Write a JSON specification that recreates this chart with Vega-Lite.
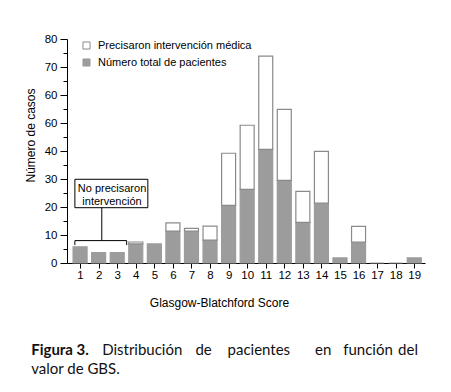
{
  "$schema": "https://vega.github.io/schema/vega-lite/v6.json",
  "width": 358,
  "height": 224,
  "autosize": {"type": "none"},
  "padding": {"left": 67, "top": 39, "right": 26, "bottom": 129},
  "background": "white",
  "config": {"view": {"stroke": null}, "font": "Liberation Sans", "axis": {"labelOverlap": false, "labelBound": false}},
  "data": {"values": [
    {"score": 1, "series": "Número total de pacientes", "value": 5.8},
    {"score": 2, "series": "Número total de pacientes", "value": 3.7},
    {"score": 3, "series": "Número total de pacientes", "value": 3.7},
    {"score": 4, "series": "Número total de pacientes", "value": 6.8},
    {"score": 5, "series": "Número total de pacientes", "value": 6.8},
    {"score": 6, "series": "Número total de pacientes", "value": 11.4},
    {"score": 7, "series": "Número total de pacientes", "value": 11.4},
    {"score": 8, "series": "Número total de pacientes", "value": 8.2},
    {"score": 9, "series": "Número total de pacientes", "value": 20.6},
    {"score": 10, "series": "Número total de pacientes", "value": 26.3},
    {"score": 11, "series": "Número total de pacientes", "value": 40.6},
    {"score": 12, "series": "Número total de pacientes", "value": 29.5},
    {"score": 13, "series": "Número total de pacientes", "value": 14.5},
    {"score": 14, "series": "Número total de pacientes", "value": 21.4},
    {"score": 15, "series": "Número total de pacientes", "value": 1.8},
    {"score": 16, "series": "Número total de pacientes", "value": 7.5},
    {"score": 17, "series": "Número total de pacientes", "value": 0},
    {"score": 18, "series": "Número total de pacientes", "value": 0},
    {"score": 19, "series": "Número total de pacientes", "value": 1.8},
    {"score": 4, "series": "Precisaron intervención médica", "value": 0.7},
    {"score": 6, "series": "Precisaron intervención médica", "value": 2.9},
    {"score": 7, "series": "Precisaron intervención médica", "value": 1.0},
    {"score": 8, "series": "Precisaron intervención médica", "value": 5.0},
    {"score": 9, "series": "Precisaron intervención médica", "value": 18.6},
    {"score": 10, "series": "Precisaron intervención médica", "value": 22.9},
    {"score": 11, "series": "Precisaron intervención médica", "value": 33.3},
    {"score": 12, "series": "Precisaron intervención médica", "value": 25.4},
    {"score": 13, "series": "Precisaron intervención médica", "value": 11.1},
    {"score": 14, "series": "Precisaron intervención médica", "value": 18.5},
    {"score": 16, "series": "Precisaron intervención médica", "value": 5.6}
  ]},
  "layer": [
    {
      "mark": {"type": "bar", "size": 14, "strokeWidth": 1.2},
      "encoding": {
        "x": {"field": "score", "type": "quantitative",
          "scale": {"domain": [0.565, 19.31], "nice": false, "zero": false},
          "axis": {"values": [1,2,3,4,5,6,7,8,9,10,11,12,13,14,15,16,17,18,19], "tickCount": 100, "format": "d",
            "title": "Glasgow-Blatchford Score", "grid": false, "tickSize": 5, "tickColor": "black", "domainColor": "black",
            "labelFontSize": 11.5, "labelPadding": 1, "labelColor": "black", "labelFlush": false, "labelOverlap": false,
            "titleFontSize": 12, "titleFontWeight": "normal", "titleColor": "black", "titleX": 152, "titleY": 39, "titleBaseline": "middle"}},
        "y": {"field": "value", "type": "quantitative", "stack": "zero",
          "scale": {"domain": [0, 80], "nice": false},
          "axis": {"values": [0,5,10,15,20,25,30,35,40,45,50,55,60,65,70,75,80], "tickCount": 100,
            "labelExpr": "datum.value % 10 != 0 ? '' : (datum.value == 50 ? '60' : datum.label)",
            "labelOverlap": false,
            "tickSize": {"condition": {"test": "datum.value % 10 == 0", "value": 7}, "value": 4},
            "title": "Número de casos", "grid": false, "tickColor": "black", "domainColor": "black",
            "labelFontSize": 11.5, "labelPadding": 3, "labelColor": "black",
            "titleFontSize": 12, "titleFontWeight": "normal", "titleColor": "black",
            "titleX": -37, "titleY": 96, "titleAlign": "center", "titleBaseline": "middle"}},
        "color": {"field": "series", "type": "nominal",
          "scale": {"domain": ["Precisaron intervención médica", "Número total de pacientes"], "range": ["#ffffff", "#9c9c9c"]},
          "legend": {"title": null, "orient": "none", "legendX": 14, "legendY": 1, "symbolType": "square", "symbolSize": 50,
            "labelFont": "Liberation Sans", "labelFontSize": 11, "labelColor": "black", "labelOffset": 6, "rowPadding": 4, "symbolStrokeWidth": 1}},
        "stroke": {"field": "series", "type": "nominal",
          "scale": {"domain": ["Precisaron intervención médica", "Número total de pacientes"], "range": ["#8a8a8a", "#9c9c9c"]}},
        "order": {"field": "series", "sort": "ascending"}
      }
    },
    {
      "data": {"values": [{}]},
      "mark": {"type": "rect", "fill": "white", "stroke": "black", "strokeWidth": 1},
      "encoding": {"x": {"datum": 0.72, "type": "quantitative"}, "x2": {"datum": 4.65}, "y": {"datum": 29.9, "type": "quantitative"}, "y2": {"datum": 19.75}}
    },
    {
      "data": {"values": [{}]},
      "mark": {"type": "rule", "stroke": "black", "strokeWidth": 1},
      "encoding": {"x": {"datum": 0.72, "type": "quantitative"}, "x2": {"datum": 3.51}, "y": {"datum": 8, "type": "quantitative"}}
    },
    {
      "data": {"values": [{}]},
      "mark": {"type": "rule", "stroke": "black", "strokeWidth": 1},
      "encoding": {"x": {"datum": 0.72, "type": "quantitative"}, "y": {"datum": 8, "type": "quantitative"}, "y2": {"datum": 6.4}}
    },
    {
      "data": {"values": [{}]},
      "mark": {"type": "rule", "stroke": "black", "strokeWidth": 1},
      "encoding": {"x": {"datum": 3.51, "type": "quantitative"}, "y": {"datum": 8, "type": "quantitative"}, "y2": {"datum": 6.4}}
    },
    {
      "data": {"values": [{}]},
      "mark": {"type": "rule", "stroke": "black", "strokeWidth": 1},
      "encoding": {"x": {"datum": 2.17, "type": "quantitative"}, "y": {"datum": 19.75, "type": "quantitative"}, "y2": {"datum": 8}}
    },
    {
      "data": {"values": [{}]},
      "mark": {"type": "text", "text": "No precisaron", "font": "Liberation Sans", "fontSize": 11, "align": "center", "baseline": "middle", "color": "black"},
      "encoding": {"x": {"datum": 2.72, "type": "quantitative"}, "y": {"datum": 26.3, "type": "quantitative"}}
    },
    {
      "data": {"values": [{}]},
      "mark": {"type": "text", "text": "intervención", "font": "Liberation Sans", "fontSize": 11, "align": "center", "baseline": "middle", "color": "black"},
      "encoding": {"x": {"datum": 2.72, "type": "quantitative"}, "y": {"datum": 21.9, "type": "quantitative"}}
    },
    {
      "data": {"values": [{}]},
      "mark": {"type": "text", "text": "Figura 3.", "font": "Lato", "fontSize": 15, "fontWeight": "bold", "align": "left", "baseline": "alphabetic", "color": "#111111"},
      "encoding": {"x": {"datum": -1.634, "type": "quantitative"}, "y": {"datum": -32.86, "type": "quantitative"}}
    },
    {
      "data": {"values": [{}]},
      "mark": {"type": "text", "text": "Distribución", "font": "Lato", "fontSize": 15, "align": "left", "baseline": "alphabetic", "color": "#111111"},
      "encoding": {"x": {"datum": 2.189, "type": "quantitative"}, "y": {"datum": -32.86, "type": "quantitative"}}
    },
    {
      "data": {"values": [{}]},
      "mark": {"type": "text", "text": "de", "font": "Lato", "fontSize": 15, "align": "left", "baseline": "alphabetic", "color": "#111111"},
      "encoding": {"x": {"datum": 7.215, "type": "quantitative"}, "y": {"datum": -32.86, "type": "quantitative"}}
    },
    {
      "data": {"values": [{}]},
      "mark": {"type": "text", "text": "pacientes", "font": "Lato", "fontSize": 15, "align": "left", "baseline": "alphabetic", "color": "#111111"},
      "encoding": {"x": {"datum": 8.943, "type": "quantitative"}, "y": {"datum": -32.86, "type": "quantitative"}}
    },
    {
      "data": {"values": [{}]},
      "mark": {"type": "text", "text": "en", "font": "Lato", "fontSize": 15, "align": "left", "baseline": "alphabetic", "color": "#111111"},
      "encoding": {"x": {"datum": 13.656, "type": "quantitative"}, "y": {"datum": -32.86, "type": "quantitative"}}
    },
    {
      "data": {"values": [{}]},
      "mark": {"type": "text", "text": "función", "font": "Lato", "fontSize": 15, "align": "left", "baseline": "alphabetic", "color": "#111111"},
      "encoding": {"x": {"datum": 15.174, "type": "quantitative"}, "y": {"datum": -32.86, "type": "quantitative"}}
    },
    {
      "data": {"values": [{}]},
      "mark": {"type": "text", "text": "del", "font": "Lato", "fontSize": 15, "align": "right", "baseline": "alphabetic", "color": "#111111"},
      "encoding": {"x": {"datum": 19.2, "type": "quantitative"}, "y": {"datum": -32.86, "type": "quantitative"}}
    },
    {
      "data": {"values": [{}]},
      "mark": {"type": "text", "text": "valor de GBS.", "font": "Lato", "fontSize": 15, "align": "left", "baseline": "alphabetic", "color": "#111111"},
      "encoding": {"x": {"datum": -1.634, "type": "quantitative"}, "y": {"datum": -39.64, "type": "quantitative"}}
    }
  ]
}
